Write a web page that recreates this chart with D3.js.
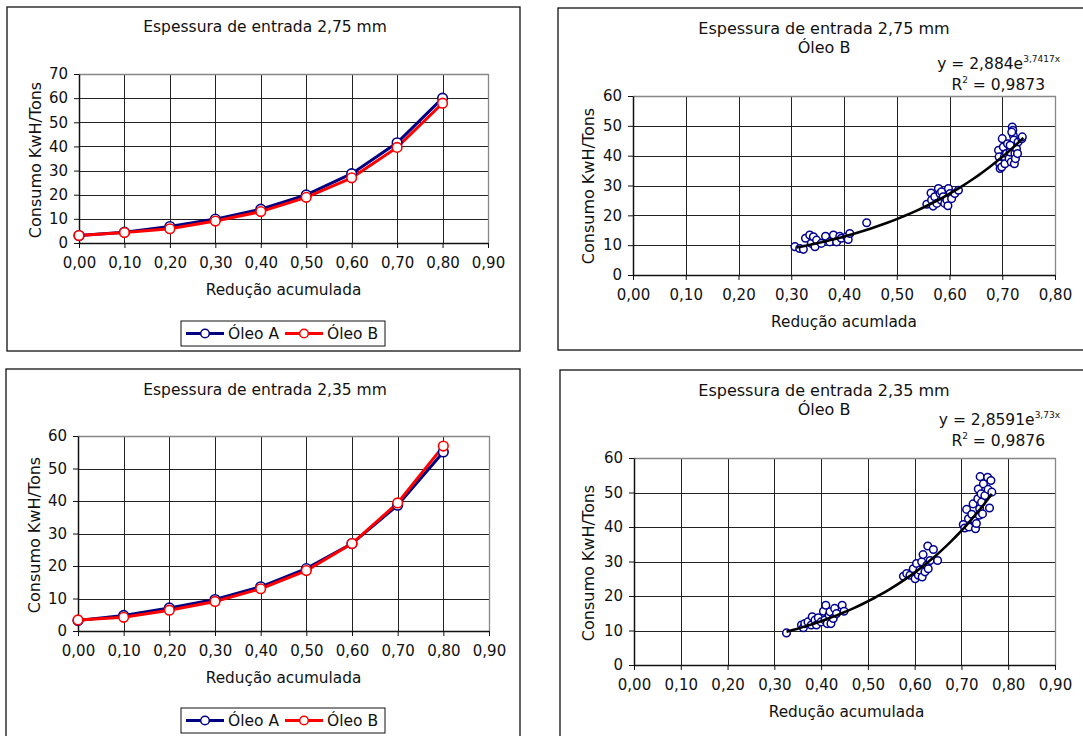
<!DOCTYPE html>
<html>
<head>
<meta charset="utf-8">
<script src="https://cdn.jsdelivr.net/npm/d3@7"></script>
<style>
  body { margin: 0; background: #fff; }
  text { font-family: "DejaVu Sans", Verdana, sans-serif; fill: #111; }
</style>
</head>
<body>
<script>
// dados
const reducao = [0, 0.1, 0.2, 0.3, 0.4, 0.5, 0.6, 0.7, 0.8];
const oleoA_275 = [3.1, 4.5, 6.8, 9.9, 14, 19.9, 28.7, 41.5, 60];
const oleoB_275 = [3.1, 4.3, 5.9, 9.1, 13, 18.9, 27, 39.6, 57.9];
const oleoA_235 = [3.2, 4.8, 7.1, 9.7, 13.6, 19.2, 26.9, 38.7, 55.1];
const oleoB_235 = [3.4, 4.2, 6.4, 9.1, 13, 18.6, 26.9, 39.4, 56.9];

const pontos_275 = [
  [0.307,9.5],[0.316,8.9],[0.323,8.6],[0.327,12.3],[0.335,13.4],[0.338,10.6],[0.342,12.8],
  [0.345,9.5],[0.348,11.7],[0.357,10.6],[0.365,13],[0.373,11.1],[0.38,13.4],[0.386,11.1],
  [0.392,13],[0.395,12.3],[0.405,12.8],[0.408,11.9],[0.411,13.9],[0.443,17.5],
  [0.557,23.7],[0.565,27.5],[0.566,25.1],[0.569,23.1],[0.572,26.2],[0.576,24],[0.579,29],
  [0.582,27.3],[0.584,25.1],[0.585,27.9],[0.588,26.2],[0.591,24],[0.595,25.1],[0.597,23.2],
  [0.598,29],[0.601,27.3],[0.604,25.6],[0.61,27.3],[0.617,28.4],
  [0.693,41.8],[0.694,39.6],[0.695,37.3],[0.696,35.7],[0.699,36.2],[0.7,45.7],[0.702,42.9],
  [0.704,39.6],[0.705,37.3],[0.708,40.7],[0.71,44],[0.713,39],[0.715,41.2],[0.717,37.9],
  [0.719,49.6],[0.72,48.5],[0.721,46.8],[0.722,45.2],[0.723,42.9],[0.724,40.7],[0.723,37.3],
  [0.725,39],[0.727,42.4],[0.729,40.7],[0.73,44.6],[0.737,45.7],[0.738,46.3],[0.718,47.9],[0.715,43.5]
];
const pontos_235 = [
  [0.326,9.3],[0.358,11.6],[0.362,10.8],[0.365,12],[0.372,12.5],[0.379,11.6],[0.381,14],
  [0.387,13],[0.39,11.6],[0.394,13.7],[0.4,12.5],[0.405,15.6],[0.408,13],[0.41,17.3],
  [0.413,12],[0.417,14.5],[0.419,15.4],[0.421,12],[0.426,13.5],[0.429,16.4],[0.433,14.9],
  [0.445,17.3],[0.449,15.6],
  [0.576,25.7],[0.583,26.5],[0.59,26],[0.597,27.9],[0.601,25],[0.604,29.4],[0.608,26],
  [0.611,27.5],[0.615,29.9],[0.616,25.5],[0.618,32],[0.622,27],[0.626,28.9],[0.628,34.5],
  [0.629,27.9],[0.633,30.3],[0.64,33.5],[0.649,30.3],
  [0.704,40.7],[0.707,39.7],[0.711,45.1],[0.715,42.4],[0.716,40],[0.722,43.7],[0.725,46.7],
  [0.728,41.9],[0.73,39.5],[0.732,41],[0.735,48.2],[0.736,51],[0.738,43.4],[0.739,45.3],
  [0.74,54.6],[0.742,49.6],[0.743,47.2],[0.745,43.8],[0.747,52.5],[0.75,49.1],[0.756,54.4],
  [0.757,50.9],[0.76,45.5],[0.763,53.5],[0.765,50.1]
];

// linha de tendência exponencial (coeficientes mostrados no gráfico)
const tendencia_275 = [2.884, 3.7417];
const faixa_275 = [0.31, 0.74];
const tendencia_235 = [2.8591, 3.73];
const faixa_235 = [0.326, 0.765];

const svg = d3.select("body").append("svg")
  .attr("width", 1083).attr("height", 736);

const fmtX = d => d3.format(".2f")(d).replace(".", ",");

function painel(o) {
  const g = svg.append("g");
  g.append("rect")
    .attr("x", o.box[0]).attr("y", o.box[1])
    .attr("width", o.box[2] - o.box[0]).attr("height", o.box[3] - o.box[1])
    .attr("fill", "#fff").attr("stroke", "#111").attr("stroke-width", 1.3);

  o.titulo.forEach((t, i) => {
    g.append("text").attr("x", o.tx).attr("y", o.ty + i * 19)
      .attr("text-anchor", "middle").attr("font-size", o.tfs).text(t);
  });

  const x = d3.scaleLinear().domain(o.xDom).range([o.plot[0], o.plot[2]]);
  const y = d3.scaleLinear().domain(o.yDom).range([o.plot[3], o.plot[1]]);

  // grade
  g.append("g").selectAll("line").data(o.xTicks.slice(1)).join("line")
    .attr("x1", d => Math.round(x(d)) + 0.5).attr("x2", d => Math.round(x(d)) + 0.5)
    .attr("y1", o.plot[1]).attr("y2", o.plot[3])
    .attr("stroke", "#222").attr("stroke-width", 1);
  g.append("g").selectAll("line").data(o.yTicks.slice(1)).join("line")
    .attr("y1", d => Math.round(y(d)) + 0.5).attr("y2", d => Math.round(y(d)) + 0.5)
    .attr("x1", o.plot[0]).attr("x2", o.plot[2])
    .attr("stroke", "#222").attr("stroke-width", 1);
  // borda cinza superior/direita
  g.append("path")
    .attr("d", `M${o.plot[0]},${o.plot[1] + 0.5}H${o.plot[2] + 0.5}V${o.plot[3]}`)
    .attr("fill", "none").attr("stroke", "#888").attr("stroke-width", 1.3);

  // eixos
  const ax = g.append("g").attr("transform", `translate(0,${o.plot[3]})`)
    .call(d3.axisBottom(x).tickValues(o.xTicks).tickFormat(fmtX).tickSize(5).tickSizeOuter(0));
  ax.select(".domain").attr("stroke", "#111").attr("stroke-width", 1.5);
  ax.selectAll(".tick line").attr("stroke", "#111");
  ax.selectAll("text").attr("font-size", 15).attr("fill", "#111").attr("dy", "1.1em")
    .style("font-family", "'DejaVu Sans', Verdana, sans-serif");

  const ay = g.append("g").attr("transform", `translate(${o.plot[0]},0)`)
    .call(d3.axisLeft(y).tickValues(o.yTicks).tickSize(5).tickSizeOuter(0).tickPadding(6));
  ay.select(".domain").attr("stroke", "#111").attr("stroke-width", 1.5);
  ay.selectAll(".tick line").attr("stroke", "#111");
  ay.selectAll("text").attr("font-size", 15).attr("fill", "#111")
    .style("font-family", "'DejaVu Sans', Verdana, sans-serif");

  g.append("text").attr("x", (o.plot[0] + o.plot[2]) / 2 + o.xtOff).attr("y", o.plot[3] + 52)
    .attr("text-anchor", "middle").attr("font-size", 15.3).text(o.xTitulo);
  g.append("text")
    .attr("transform", `translate(${o.ytx},${o.yty}) rotate(-90)`)
    .attr("text-anchor", "middle").attr("font-size", 16).text("Consumo KwH/Tons");

  return { g, x, y };
}

function painelLinhas(o) {
  const { g, x, y } = painel(o);
  const series = [
    { nome: "Óleo A", v: o.a, cor: "#000080" },
    { nome: "Óleo B", v: o.b, cor: "#ff0000" }
  ];
  const line = d3.line().x((d, i) => x(reducao[i])).y(d => y(d));
  series.forEach(s => {
    g.append("path").datum(s.v).attr("d", line)
      .attr("fill", "none").attr("stroke", s.cor).attr("stroke-width", 3);
  });
  series.forEach(s => {
    g.append("g").selectAll("circle").data(s.v).join("circle")
      .attr("cx", (d, i) => x(reducao[i])).attr("cy", d => y(d)).attr("r", 4.8)
      .attr("fill", "#fff").attr("stroke", s.cor).attr("stroke-width", 1.6);
  });

  // legenda
  const lg = g.append("g").attr("transform", `translate(181,${o.legY})`);
  lg.append("rect").attr("width", 204).attr("height", 25)
    .attr("fill", "#fff").attr("stroke", "#111").attr("stroke-width", 1);
  series.forEach((s, i) => {
    const x0 = 5 + i * 99;
    lg.append("line").attr("x1", x0).attr("x2", x0 + 38).attr("y1", 12.5).attr("y2", 12.5)
      .attr("stroke", s.cor).attr("stroke-width", 3);
    lg.append("circle").attr("cx", x0 + 19).attr("cy", 12.5).attr("r", 4.3)
      .attr("fill", "#fff").attr("stroke", s.cor).attr("stroke-width", 1.5);
    lg.append("text").attr("x", x0 + 42).attr("y", 18).attr("font-size", 15.5).text(s.nome);
  });
}

function painelDispersao(o) {
  const { g, x, y } = painel(o);
  g.append("g").selectAll("circle").data(o.pts).join("circle")
    .attr("cx", d => x(d[0])).attr("cy", d => y(d[1])).attr("r", 3.8)
    .attr("fill", "#fff").attr("stroke", "#000090").attr("stroke-width", 1.5);
  const [a, b] = o.coef;
  const xs = d3.range(o.faixa[0], o.faixa[1] + 1e-9, (o.faixa[1] - o.faixa[0]) / 40);
  g.append("path").datum(xs)
    .attr("d", d3.line().x(d => x(d)).y(d => y(a * Math.exp(b * d))))
    .attr("fill", "none").attr("stroke", "#000").attr("stroke-width", 2.6);

  const eq = g.append("text").attr("x", o.eqX).attr("y", o.eqY)
    .attr("text-anchor", "end").attr("font-size", 15.5);
  eq.append("tspan").text("y = " + String(a).replace(".", ",") + "e");
  eq.append("tspan").attr("font-size", 9).attr("dy", -7).text(String(b).replace(".", ",") + "x");
  const r2 = g.append("text").attr("x", o.eqX - 15).attr("y", o.eqY + 21)
    .attr("text-anchor", "end").attr("font-size", 15.5);
  r2.append("tspan").text("R");
  r2.append("tspan").attr("font-size", 9).attr("dy", -7).text("2");
  r2.append("tspan").attr("dy", 7).text(" = " + o.r2);
}

const ticks10 = d3.range(0, 10).map(i => i / 10);

painelLinhas({
  box: [7, 7, 520, 351], tx: 265, ty: 32, tfs: 15.5,
  titulo: ["Espessura de entrada 2,75 mm"],
  plot: [79, 74, 488, 243], xDom: [0, 0.9], yDom: [0, 70],
  xTicks: ticks10, yTicks: d3.range(0, 71, 10),
  xTitulo: "Redução acumulada", xtOff: 0, ytx: 41, yty: 160,
  a: oleoA_275, b: oleoB_275, legY: 321
});

painelDispersao({
  box: [558, 8, 1092, 350], tx: 824, ty: 34, tfs: 16,
  titulo: ["Espessura de entrada 2,75 mm", "Óleo B"],
  plot: [633, 96, 1055, 275], xDom: [0, 0.8], yDom: [0, 60],
  xTicks: ticks10.slice(0, 9), yTicks: d3.range(0, 61, 10),
  xTitulo: "Redução acumlada", xtOff: 0, ytx: 594, yty: 186,
  pts: pontos_275, coef: tendencia_275, faixa: faixa_275,
  eqX: 1060, eqY: 69, r2: "0,9873"
});

painelLinhas({
  box: [6, 369, 520, 742], tx: 265, ty: 395, tfs: 15.5,
  titulo: ["Espessura de entrada 2,35 mm"],
  plot: [78, 436, 489, 631], xDom: [0, 0.9], yDom: [0, 60],
  xTicks: ticks10, yTicks: d3.range(0, 61, 10),
  xTitulo: "Redução acumulada", xtOff: 0, ytx: 40, yty: 535,
  a: oleoA_235, b: oleoB_235, legY: 708
});

painelDispersao({
  box: [560, 370, 1092, 742], tx: 824, ty: 396, tfs: 16,
  titulo: ["Espessura de entrada 2,35 mm", "Óleo B"],
  plot: [634, 458, 1055, 665], xDom: [0, 0.9], yDom: [0, 60],
  xTicks: ticks10, yTicks: d3.range(0, 61, 10),
  xTitulo: "Redução acumulada", xtOff: 2, ytx: 594, yty: 563,
  pts: pontos_235, coef: tendencia_235, faixa: faixa_235,
  eqX: 1060, eqY: 425, r2: "0,9876"
});
</script>
</body>
</html>
